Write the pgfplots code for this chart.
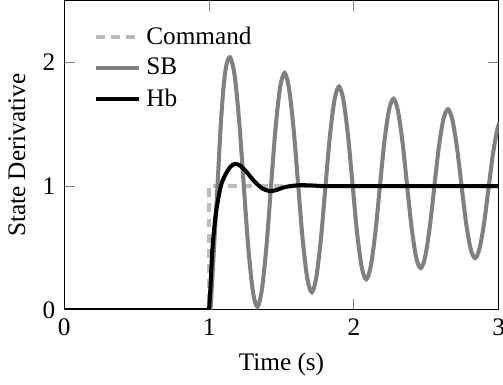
\documentclass[border=0pt]{standalone}
\usepackage{fontspec}
\setmainfont{DejaVu Serif}
\usepackage{pgfplots}
\pgfplotsset{compat=1.18}
\definecolor{sbgray}{RGB}{128,128,128}
\definecolor{cmdgray}{RGB}{188,188,188}
\begin{document}
\begin{tikzpicture}[trim right=(R)]
\begin{axis}[
  width=172pt, height=122.5pt, scale only axis,
  xmin=0, xmax=3, ymin=0, ymax=2.5,
  xtick={0,1,2,3}, ytick={0,1,2},
  xticklabels={{\fontspec{Liberation Serif}0},{\fontspec{Liberation Serif}1},{\fontspec{Liberation Serif}2},{\fontspec{Liberation Serif}3}},
  yticklabels={{\fontspec{Liberation Serif}0},{\fontspec{Liberation Serif}1},{\fontspec{Liberation Serif}2}},
  tick style={gray, thin},
  xlabel={\fontspec{Liberation Serif}Time (s)}, ylabel={\fontspec{Liberation Serif}State Derivative},
  legend style={draw=none, fill=none, at={(0.05,0.95)}, anchor=north west},
  legend cell align=left,
  clip=true,
]
\coordinate (R) at (rel axis cs:1.01,0);
\addplot[cmdgray, line width=1.6pt, dash pattern=on 3.5pt off 2.5pt] coordinates {(0,0) (1,0) (1,1) (3,1)};
\addlegendentry{\fontspec{Liberation Serif}Command}
\addplot[sbgray, line width=1.6pt] coordinates {(0,0) (1.0,0) (1.01,0)};
\addplot[sbgray, line width=1.6pt, smooth, forget plot] coordinates {
(1.01,0) (1.035,0.52) (1.058,1.0) (1.081,1.5) (1.100,1.80) (1.120,1.98) (1.146,2.040)
(1.177,1.891) (1.209,1.509) (1.240,1.000) (1.271,0.502) (1.303,0.146) (1.334,0.025)
(1.365,0.165) (1.397,0.523) (1.428,1.000) (1.459,1.467) (1.491,1.800) (1.522,1.914)
(1.553,1.783) (1.585,1.447) (1.616,1.000) (1.647,0.562) (1.679,0.250) (1.710,0.143)
(1.741,0.266) (1.773,0.581) (1.804,1.000) (1.835,1.411) (1.867,1.703) (1.898,1.804)
(1.929,1.688) (1.961,1.393) (1.992,1.000) (2.023,0.615) (2.055,0.340) (2.086,0.247)
(2.117,0.354) (2.149,0.631) (2.180,1.000) (2.211,1.361) (2.243,1.618) (2.274,1.706)
(2.305,1.605) (2.337,1.346) (2.368,1.000) (2.399,0.662) (2.431,0.420) (2.462,0.338)
(2.493,0.433) (2.525,0.676) (2.556,1.000) (2.587,1.317) (2.619,1.544) (2.650,1.621)
(2.681,1.532) (2.713,1.304) (2.744,1.000) (2.775,0.703) (2.807,0.490) (2.838,0.418)
(2.869,0.501) (2.901,0.715) (2.932,1.000) (2.963,1.279) (2.995,1.478) (3.026,1.546)
};
\addlegendentry{\fontspec{Liberation Serif}SB}
\addplot[black, line width=1.6pt] coordinates {(0,0) (1.0,0)};
\addlegendentry{\fontspec{Liberation Serif}Hb}
\addplot[black, line width=1.6pt, smooth, forget plot] coordinates {
(1.0,0) (1.005,0.10) (1.011,0.21) (1.023,0.49) (1.046,0.77) (1.081,1.0) (1.116,1.10)
(1.150,1.16) (1.181,1.18) (1.215,1.165) (1.255,1.12) (1.290,1.07) (1.324,1.025)
(1.370,0.98) (1.420,0.96) (1.470,0.97) (1.510,0.988) (1.560,1.0) (1.626,1.007)
(1.700,1.006) (1.800,1.0) (2.0,1.0) (3.0,1.0)
};
\end{axis}
\end{tikzpicture}
\end{document}
